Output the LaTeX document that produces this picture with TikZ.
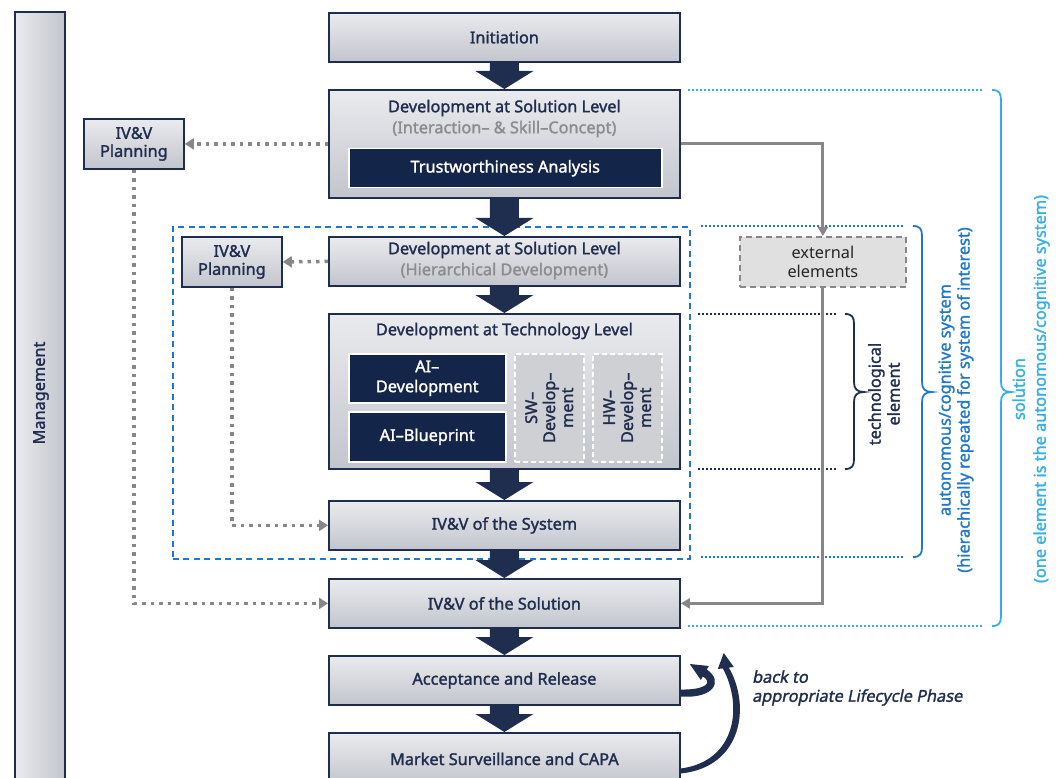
\documentclass[tikz,border=0pt]{standalone}
\usepackage{fontspec}
\setmainfont{Noto Sans}[
  BoldFont={Noto Sans}, BoldFeatures={FakeBold=1.6},
  ItalicFont={Noto Sans}, ItalicFeatures={FakeSlant=0.2},
  BoldItalicFont={Noto Sans}, BoldItalicFeatures={FakeBold=1.6,FakeSlant=0.2}]
\usetikzlibrary{arrows.meta,calc}

\definecolor{navy}{HTML}{1F2D4E}
\definecolor{deepnavy}{HTML}{14254A}
\definecolor{boxtop}{HTML}{EAEBEE}
\definecolor{boxbot}{HTML}{C2C5CD}
\definecolor{subgray}{HTML}{8C8C8C}
\definecolor{linegray}{HTML}{878787}
\definecolor{extfill}{HTML}{E0E0E0}
\definecolor{subfill}{HTML}{CFD0D4}
\definecolor{skyblue}{HTML}{33B0E8}
\definecolor{midblue}{HTML}{1F78C8}

\pgfdeclarelayer{under}
\pgfsetlayers{under,main}

\newcommand\boxfont{\fontsize{16.3}{18}\selectfont\bfseries}
\newcommand\labfont{\fontsize{16.3}{19}\selectfont\bfseries}

% block arrow between two stacked phases
\newcommand\flowarrow[2]{%
  \fill[navy] ($(#1.south)+(-14.5,0)$) -- ($(#2.north)+(-14.5,-18)$)
    -- ($(#2.north)+(-29,-18)$) -- (#2.north) -- ($(#2.north)+(29,-18)$)
    -- ($(#2.north)+(14.5,-18)$) -- ($(#1.south)+(14.5,0)$) -- cycle;}

% right-pointing curly brace: #1 x, #2 top, #3 bottom, #4 tip height, #5 colour
\newcommand\scopebrace[5]{%
  \draw[#5, line width=1.8pt]
    (#1,#2) .. controls (#1+7,#2) and (#1+9,#2+3) .. (#1+9,#2+10)
    -- (#1+9,#4-10) .. controls (#1+9,#4-3) and (#1+12,#4) .. (#1+19,#4)
    .. controls (#1+12,#4) and (#1+9,#4+3) .. (#1+9,#4+10)
    -- (#1+9,#3-10) .. controls (#1+9,#3-3) and (#1+7,#3) .. (#1,#3);}

\tikzset{
  phase/.style={draw=navy, line width=1.8pt, top color=boxtop, bottom color=boxbot,
    minimum width=351pt, minimum height=49pt, anchor=north west, inner sep=0pt,
    text=navy, font=\boxfont, align=center},
  plan/.style={phase, minimum width=100pt, minimum height=50pt},
  darkbox/.style={fill=deepnavy, draw=white, line width=1.5pt, text=white,
    font=\boxfont, anchor=north west, inner sep=0pt, align=center},
  subbox/.style={fill=subfill, draw=white, line width=1.5pt, dash pattern=on 5pt off 3pt,
    anchor=north west, inner sep=0pt},
  title/.style={text=navy, font=\boxfont, inner sep=0pt},
  subtitle/.style={text=subgray, font=\boxfont, inner sep=0pt},
  ivvdot/.style={draw=linegray, line width=3.5pt, dash pattern=on 3.5pt off 5pt,
    -{Triangle[length=9pt,width=11pt]}},
  extline/.style={draw=linegray, line width=3pt, -{Triangle[length=9pt,width=10pt]}},
  guide/.style={line width=1.8pt, dash pattern=on 1.8pt off 2.2pt},
  sidelabel/.style={rotate=90, align=center, font=\labfont, inner sep=0pt},
}

\begin{document}
\begin{tikzpicture}[x=1pt,y=-1pt]
\useasboundingbox (0,0) rectangle (1060,778);
\clip (0,0) rectangle (1060,778);

% management bar
\node[draw=navy, line width=1.8pt, left color=boxtop, right color=boxbot,
  minimum width=50pt, minimum height=775pt, anchor=north west, inner sep=0pt] (mgmt) at (14,11) {};
\node[sidelabel, text=navy] (mgmtlab) at (41,393) {Management};

% lifecycle phases
\node[phase] (init) at (328,12) {Initiation};
\node[phase, minimum height=108pt] (dev1) at (328,89) {};
\node[phase] (dev2) at (328,236) {};
\node[phase, minimum height=155pt] (tech) at (328,313) {};
\node[phase] (ivvsys) at (328,500) {IV\&V of the System};
\node[phase] (ivvsol) at (328,578) {IV\&V of the Solution};
\node[phase] (accept) at (328,655) {Acceptance and Release};
\node[phase, minimum height=52pt] (market) at (328,732) {Market Surveillance and CAPA};

\begin{pgfonlayer}{under}
  % frame of the autonomous/cognitive system
  \node[draw=midblue, line width=1.6pt, dash pattern=on 6pt off 4.5pt,
    minimum width=517pt, minimum height=332pt, anchor=north west, inner sep=0pt] (sysframe) at (172,226) {};
  % block arrows
  \flowarrow{init}{dev1}
  \flowarrow{dev1}{dev2}
  \flowarrow{dev2}{tech}
  \flowarrow{tech}{ivvsys}
  \flowarrow{ivvsys}{ivvsol}
  \flowarrow{ivvsol}{accept}
  \flowarrow{accept}{market}
\end{pgfonlayer}

% solution level development
\node[title] (dev1t) at ($(dev1.north)+(0,19)$) {Development at Solution Level};
\node[subtitle] (dev1s) at ($(dev1.north)+(0,40)$) {(Interaction– \& Skill–Concept)};
\node[darkbox, minimum width=313pt, minimum height=39pt] (trust) at (348,148) {Trustworthiness Analysis};

\node[title] (dev2t) at ($(dev2.north)+(0,14)$) {Development at Solution Level};
\node[subtitle] (dev2s) at ($(dev2.north)+(0,35)$) {(Hierarchical Development)};

% technology level development
\node[title] (techt) at ($(tech.north)+(0,18)$) {Development at Technology Level};
\node[darkbox, minimum width=157pt, minimum height=49pt, font=\fontsize{16.3}{20}\selectfont\bfseries] (aidev) at (348,353) {AI–\\Development};
\node[darkbox, minimum width=157pt, minimum height=50pt] (aiblue) at (348,411) {AI–Blueprint};
\node[subbox, minimum width=69pt, minimum height=108pt] (sw) at (514,353) {};
\node[subbox, minimum width=69pt, minimum height=108pt] (hw) at (592,353) {};
\node[sidelabel, text=navy, font=\boxfont] (swt) at (sw.center) {SW–\\Develop–\\ment};
\node[sidelabel, text=navy, font=\boxfont] (hwt) at (hw.center) {HW–\\Develop–\\ment};

% IV&V planning
\node[plan] (plan1) at (83,118) {IV\&V\\Planning};
\node[plan] (plan2) at (181,236) {IV\&V\\Planning};

\draw[ivvdot] (dev1.west) -- (plan1.east);
\draw[ivvdot] (dev2.west) -- (plan2.east);
\draw[ivvdot] (plan1.south) |- (ivvsol.west);
\draw[ivvdot] (plan2.south) |- (ivvsys.west);

% scope guides and braces
\draw[skyblue, guide] (688,90) -- (982,90);
\draw[skyblue, guide] (688,626) -- (982,626);
\scopebrace{992}{90}{626}{392}{skyblue}
\draw[midblue, guide] (701,226) -- (903,226);
\draw[midblue, guide] (701,557) -- (903,557);
\scopebrace{913}{226}{557}{392}{midblue}
\draw[navy, guide] (698,314) -- (837,314);
\draw[navy, guide] (698,469) -- (837,469);
\scopebrace{845}{314}{469}{392}{navy}

% external elements
\node[draw=linegray, line width=1.8pt, dash pattern=on 6pt off 4pt, fill=extfill,
  minimum width=166pt, minimum height=50pt, anchor=north west, inner sep=0pt, align=center,
  font=\fontsize{16.3}{19}\selectfont, text=black!85] (ext) at (739,236) {external\\elements};
\draw[extline] (dev1.east) -| (ext.north);
\draw[extline] (ext.south) |- (ivvsol.east);

% side labels
\node[sidelabel, text=navy] (techlab) at (884,394) {technological\\element};
\node[sidelabel, text=midblue] (autlab) at (956,400) {autonomous/cognitive system\\(hierachically repeated for system of interest)};
\node[sidelabel, text=skyblue, font=\fontsize{16.3}{21}\selectfont\bfseries] (sollab) at (1031,389) {solution\\(one element is the autonomous/cognitive system)};

% feedback arrows (tapered, drawn as filled outlines next to the release phase)
\begin{scope}[shift={(accept.north east)}]
  \fill[navy] (0,41.5) .. controls (33,44) and (43,26) .. (26,14.5)
    -- (28,11) -- (9,9) -- (20,25) -- (22,21.5)
    .. controls (32,27) and (26,35) .. (0,34.5) -- cycle;
  \fill[navy] (0,118.5) .. controls (62,112) and (70,50) .. (48,12.6)
    -- (53,12) -- (43,-2) -- (37,14) -- (42,13.4)
    .. controls (62,50) and (56,106) .. (0,113.5) -- cycle;
\end{scope}
\node[anchor=west, align=left, font=\fontsize{16.3}{19}\selectfont\bfseries\itshape, text=navy, inner sep=0pt]
  (back) at (752,688) {back to\\appropriate Lifecycle Phase};
\end{tikzpicture}
\end{document}
